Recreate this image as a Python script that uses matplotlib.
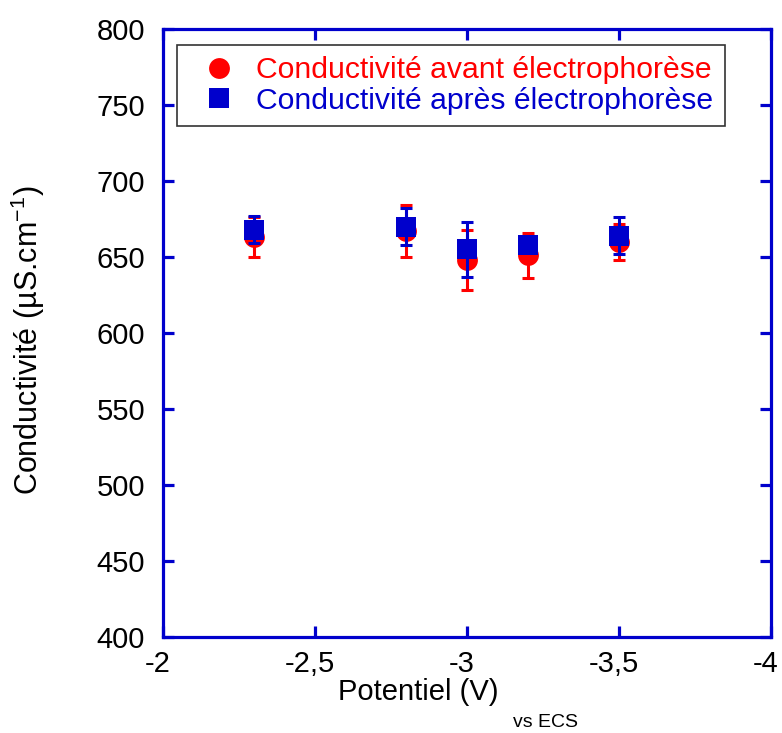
import matplotlib
matplotlib.use("Agg")
import matplotlib.pyplot as plt
import matplotlib.transforms as mtransforms
from matplotlib.lines import Line2D

plt.rcParams['font.family'] = ['Liberation Sans', 'DejaVu Sans']
plt.rcParams['mathtext.fontset'] = 'custom'
plt.rcParams['mathtext.rm'] = 'Liberation Sans'
plt.rcParams['mathtext.it'] = 'Liberation Sans'

# data
potential = [-2.3, -2.8, -3.0, -3.2, -3.5]
avant = [663, 667, 648, 651, 660]
avant_err = [13, 17, 20, 15, 12]
apres = [668, 670, 655, 658, 664]
apres_err = [9, 12, 18, 5, 12]

x_ticks = [-2, -2.5, -3, -3.5, -4]
x_labels = ['-2', '-2,5', '-3', '-3,5', '-4']
y_ticks = [400, 450, 500, 550, 600, 650, 700, 750, 800]

blue = '#0000CC'
red = '#FF0000'
W, H = 782, 733

fig = plt.figure(figsize=(W / 100, H / 100), dpi=100)
ax = fig.add_axes([163 / W, 96 / H, 608 / W, 608 / H])

# error bars first, then markers on top
ax.errorbar(potential, avant, yerr=avant_err, fmt='none', ecolor=red,
            elinewidth=2.2, capsize=4, capthick=2.2, zorder=2)
ax.plot(potential, avant, 'o', color=red, ms=15, mew=0, zorder=3)
ax.errorbar(potential, apres, yerr=apres_err, fmt='none', ecolor=blue,
            elinewidth=2.2, capsize=4, capthick=2.2, zorder=4)
ax.plot(potential, apres, 's', color=blue, ms=15, mew=0, zorder=5)

ax.set_xlim(-2, -4)
ax.set_ylim(400, 800)
ax.set_xticks(x_ticks)
ax.set_xticklabels(x_labels)
ax.set_yticks(y_ticks)

for s in ax.spines.values():
    s.set_color(blue)
    s.set_linewidth(2.3)
ax.tick_params(direction='in', length=8, width=2.3, color=blue,
               top=True, right=True, labelsize=21)
ax.tick_params(axis='y', pad=13)
ax.tick_params(axis='x', pad=9)

# x tick labels sit a little left of their ticks in the original
shift = mtransforms.ScaledTranslation(-5 / 100, 0, fig.dpi_scale_trans)
for lbl in ax.get_xticklabels():
    lbl.set_transform(lbl.get_transform() + shift)

# axis titles placed by hand
fig.text(28 / W, 1 - 340 / H, 'Conductivité (µS.cm$^{-1}$)', fontsize=22,
         rotation=90, ha='center', va='center')
fig.text(338 / W, 1 - 700 / H, 'Potentiel (V)', fontsize=21,
         ha='left', va='baseline')
fig.text(513 / W, 1 - 727 / H, 'vs ECS', fontsize=14,
         ha='left', va='baseline')

handles = [Line2D([], [], ls='none', marker='o', ms=15, mew=0, color=red),
           Line2D([], [], ls='none', marker='s', ms=15, mew=0, color=blue)]
labels = ['Conductivité avant électrophorèse',
          'Conductivité après électrophorèse']
leg = fig.legend(handles, labels, loc='upper left',
                 bbox_to_anchor=(177 / W, 1 - 45 / H), borderaxespad=0,
                 fontsize=21.7, frameon=True, fancybox=False, edgecolor='black',
                 handlelength=2.0, handletextpad=0.25, borderpad=0.38,
                 labelspacing=0.08)
leg.get_frame().set_linewidth(1.2)
for t, c in zip(leg.get_texts(), [red, blue]):
    t.set_color(c)

plt.savefig('out.png', dpi=100)
